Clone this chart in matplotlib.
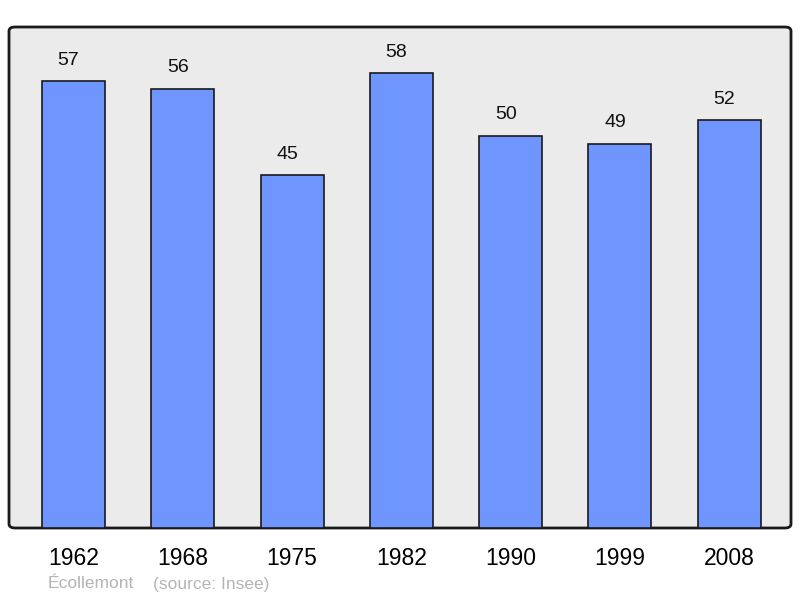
import matplotlib.pyplot as plt
from matplotlib.patches import FancyBboxPatch

years = ['1962', '1968', '1975', '1982', '1990', '1999', '2008']
population = [57, 56, 45, 58, 50, 49, 52]
commune = 'Écollemont'
source = '(source: Insee)'

plt.rcParams['font.family'] = ['Liberation Sans', 'DejaVu Sans']

fig = plt.figure(figsize=[8, 5.98], dpi=100)
ax = fig.add_axes([9/800, 1 - 528/598, 782/800, 501/598])
ax.set_facecolor('none')

# rounded frame behind the bars
frame = FancyBboxPatch((0, 0), 1, 1, boxstyle='round,pad=0,rounding_size=0.008',
                       transform=ax.transAxes, facecolor='#ebebeb', edgecolor='#1a1a1a',
                       linewidth=2, zorder=0, clip_on=False)
ax.add_patch(frame)

x = list(range(len(years)))
ax.bar(x, population, width=0.576, color='#6f96ff', edgecolor='#1a1a1a', linewidth=1.2, zorder=2)
for xi, v in zip(x, population):
    ax.text(xi - 0.045, v + 1.6, str(v), ha='center', va='bottom', fontsize=14, color='#111111')

ax.set_xlim(-0.59, 6.565)
ax.set_ylim(0, 63.9)
ax.set_yticks([])
ax.set_xticks(x)
ax.set_xticklabels(years, fontsize=16.5)
ax.tick_params(axis='x', length=0, pad=14)
for s in ax.spines.values():
    s.set_visible(False)

fig.text(48/800, 1 - 584/598, commune, fontsize=12.5, color='#b4b4b4', va='center')
fig.text(153/800, 1 - 584/598, source, fontsize=12.5, color='#b4b4b4', va='center')

plt.savefig('out.png', dpi=100)
